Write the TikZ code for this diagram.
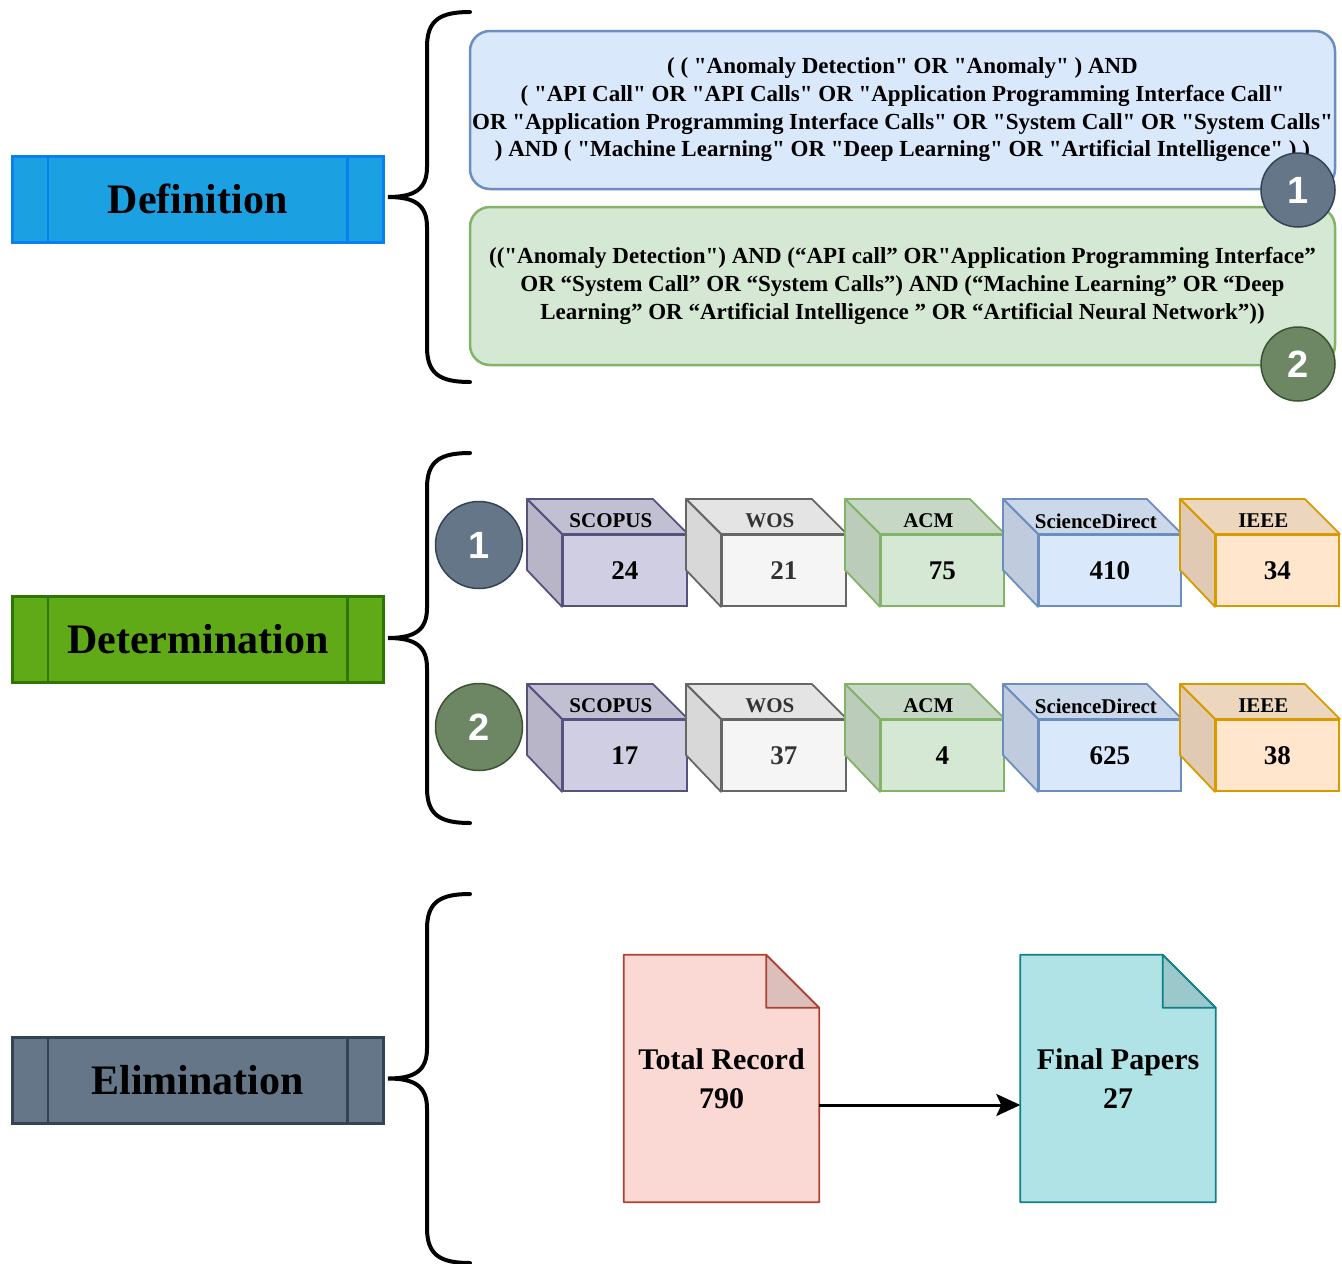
\documentclass[tikz,border=0pt]{standalone}
\usepackage{fontspec}
\setmainfont{Liberation Serif}[Ligatures=TeXOff]
\newfontfamily\numfont{Liberation Sans}
\usetikzlibrary{calc,arrows.meta,backgrounds}
\definecolor{defF}{HTML}{1BA1E2}\definecolor{defS}{HTML}{0A7FF0}
\definecolor{detF}{HTML}{60A917}\definecolor{detS}{HTML}{2D7600}
\definecolor{eliF}{HTML}{647687}\definecolor{eliS}{HTML}{314354}
\definecolor{bluF}{HTML}{DAE8FC}\definecolor{bluS}{HTML}{6C8EBF}
\definecolor{grnF}{HTML}{D5E8D4}\definecolor{grnS}{HTML}{82B366}
\definecolor{dgF}{HTML}{6D8764}\definecolor{dgS}{HTML}{3A5431}
\definecolor{purF}{HTML}{D0CEE2}\definecolor{purS}{HTML}{56517E}
\definecolor{gryF}{HTML}{F5F5F5}\definecolor{gryS}{HTML}{666666}\definecolor{gryT}{HTML}{333333}
\definecolor{orgF}{HTML}{FFE6CC}\definecolor{orgS}{HTML}{D79B00}
\definecolor{redF}{HTML}{FAD9D5}\definecolor{redS}{HTML}{AE4132}
\definecolor{cyaF}{HTML}{B0E3E6}\definecolor{cyaS}{HTML}{0E8088}
\tikzset{
  proc/.style={draw, line width=2.5pt, minimum width=371pt, minimum height=86pt, anchor=north west, inner sep=0pt, font=\bfseries\fontsize{42}{48}\selectfont},
  qbox/.style={draw, line width=2.5pt, rounded corners=20pt, minimum width=865pt, minimum height=158pt, align=center, inner sep=0pt, font=\bfseries\fontsize{23}{27.7}\selectfont},
  badge/.style={circle, draw, line width=1.5pt, text=white, inner sep=0pt, font=\numfont\bfseries\fontsize{38}{40}\selectfont},
  brace/.style={line width=4pt, line cap=round},
  cubefront/.style={draw, line width=1.8pt, anchor=north west, minimum height=71pt, inner sep=0pt, font=\bfseries\fontsize{27}{30}\selectfont},
  cubelabel/.style={inner sep=0pt, font=\bfseries\fontsize{21}{24}\selectfont},
  docnode/.style={minimum width=195pt, minimum height=247pt, inner sep=0pt, align=center, font=\bfseries\fontsize{30}{39}\selectfont},
  docshape/.style={line width=1.8pt},
  flow/.style={line width=3pt, -{Stealth[length=24pt,width=22pt,inset=5pt]}}
}
% #1 name, #2 x, #3 y, #4 width, #5 fill, #6 stroke, #7 label, #8 number, #9 text colour
\newcommand\dbcube[9]{%
  \node[cubefront, fill=#5, draw=#6, text=#9, minimum width={(#4-35)*1pt}] (#1) at ({#2+35},{#3+35}) {#8};
  \draw[line width=1.8pt, draw=#6, fill=#5!93!black, line join=round] (#1.north west) -- ++(-35,-35) -- ($(#1.north east)+(-35,-35)$) -- (#1.north east) -- cycle;
  \draw[line width=1.8pt, draw=#6, fill=#5!88!black, line join=round] (#1.north west) -- ++(-35,-35) -- ++(0,71) -- (#1.south west) -- cycle;
  \node[cubelabel, text=#9] (#1-l) at ($(#1.north)+(-14,-13)$) {#7};
}
\begin{document}
\begin{tikzpicture}[x=1pt,y=-1pt]
\useasboundingbox (0,0) rectangle (1342,1264);
% braces
\foreach \t/\b in {12/382, 453/823, 894/1263}{
  \pgfmathsetmacro\m{(\t+\b)/2}
  \draw[brace] (470,\t) .. controls (440,\t) and (427,{\t+8}) .. (427,{\t+35}) -- (427,{\m-30})
     .. controls (427,{\m-8}) and (415,\m) .. (388,\m)
     .. controls (415,\m) and (427,{\m+8}) .. (427,{\m+30}) -- (427,{\b-35})
     .. controls (427,{\b-8}) and (440,\b) .. (470,\b);
}
% process boxes
\node[proc, fill=defF, draw=defS] (def) at (11,155) {Definition};
\node[proc, fill=detF, draw=detS] (det) at (11,595) {Determination};
\node[proc, fill=eliF, draw=eliS] (eli) at (11,1036) {Elimination};
\draw[line width=2.5pt, defS] ($(def.north west)+(37,0)$) -- ($(def.south west)+(37,0)$) ($(def.north east)+(-37,0)$) -- ($(def.south east)+(-37,0)$);
\draw[line width=2.5pt, detS] ($(det.north west)+(37,0)$) -- ($(det.south west)+(37,0)$) ($(det.north east)+(-37,0)$) -- ($(det.south east)+(-37,0)$);
\draw[line width=2.5pt, eliS] ($(eli.north west)+(37,0)$) -- ($(eli.south west)+(37,0)$) ($(eli.north east)+(-37,0)$) -- ($(eli.south east)+(-37,0)$);
% query boxes
\node[qbox, fill=bluF, draw=bluS] (q1) at (902.5,110) {( ( "Anomaly Detection" OR "Anomaly" ) AND\\( "API Call" OR "API Calls" OR "Application Programming Interface Call"\\OR "Application Programming Interface Calls" OR "System Call" OR "System Calls"\\) AND ( "Machine Learning" OR "Deep Learning" OR "Artificial Intelligence" ) )};
\node[qbox, fill=grnF, draw=grnS] (q2) at (902.5,286) {(("Anomaly Detection") AND (“API call” OR"Application Programming Interface”\\OR “System Call” OR “System Calls”) AND (“Machine Learning” OR “Deep\\Learning” OR “Artificial Intelligence ” OR “Artificial Neural Network”))};
\node[badge, fill=eliF, draw=eliS, minimum size=74pt] (c1) at (1298,190) {1};
\node[badge, fill=dgF, draw=dgS, minimum size=74pt] (c2) at (1298,364) {2};
% determination
\node[badge, fill=eliF, draw=eliS, minimum size=87pt] (d1) at (479,545) {1};
\node[badge, fill=dgF, draw=dgS, minimum size=87pt] (d2) at (479,727) {2};
\dbcube{s1}{527}{499}{159}{purF}{purS}{SCOPUS}{24}{black}
\dbcube{w1}{686}{499}{159}{gryF}{gryS}{WOS}{21}{gryT}
\dbcube{a1}{845}{499}{158}{grnF}{grnS}{ACM}{75}{black}
\dbcube{sd1}{1003}{499}{177}{bluF}{bluS}{ScienceDirect}{410}{black}
\dbcube{i1}{1180}{499}{158}{orgF}{orgS}{IEEE}{34}{black}
\dbcube{s2}{527}{684}{159}{purF}{purS}{SCOPUS}{17}{black}
\dbcube{w2}{686}{684}{159}{gryF}{gryS}{WOS}{37}{gryT}
\dbcube{a2}{845}{684}{158}{grnF}{grnS}{ACM}{4}{black}
\dbcube{sd2}{1003}{684}{177}{bluF}{bluS}{ScienceDirect}{625}{black}
\dbcube{i2}{1180}{684}{158}{orgF}{orgS}{IEEE}{38}{black}
% elimination documents
\node[docnode] (tot) at (721.5,1078.5) {Total Record\\790};
\node[docnode] (fin) at (1118,1078.5) {Final Papers\\27};
\begin{scope}[on background layer]
  \foreach \d/\f/\s in {tot/redF/redS, fin/cyaF/cyaS}{
    \draw[docshape, fill=\f, draw=\s, line join=round] (\d.north west) -- ($(\d.north east)+(-53,0)$) -- ($(\d.north east)+(0,53)$) -- (\d.south east) -- (\d.south west) -- cycle;
    \draw[docshape, fill=\f!88!black, draw=\s, line join=round] ($(\d.north east)+(-53,0)$) -- ($(\d.north east)+(-53,53)$) -- ($(\d.north east)+(0,53)$) -- cycle;
  }
\end{scope}
\draw[flow] ($(tot.east)+(0,26.5)$) -- ($(fin.west)+(0,26.5)$);
\end{tikzpicture}
\end{document}
